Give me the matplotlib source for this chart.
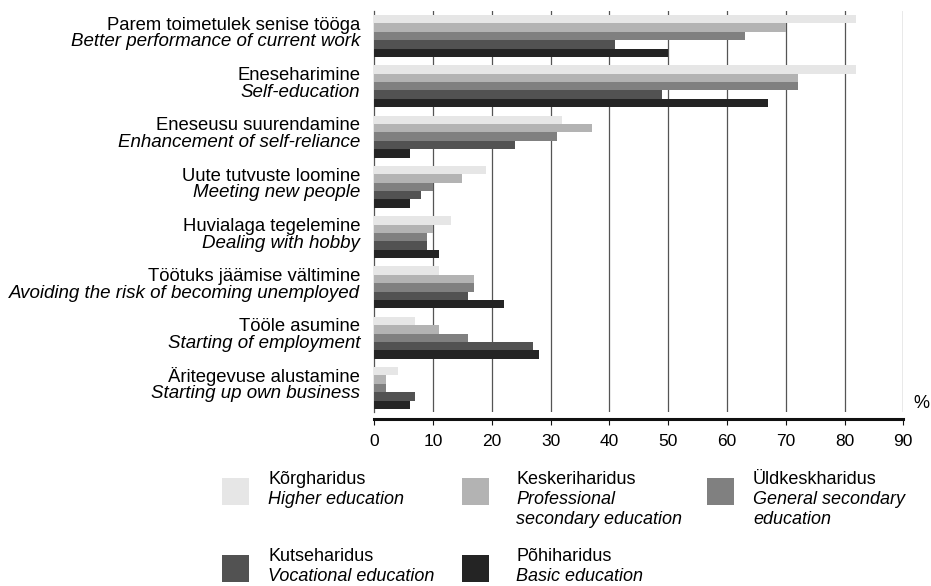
import numpy as np
import matplotlib
matplotlib.use('Agg')
import matplotlib.pyplot as plt
from matplotlib.patches import Rectangle
from matplotlib import transforms

plt.rcParams['font.family'] = ['Liberation Sans', 'DejaVu Sans']

# Categories (Estonian / English)
categories_et = ['Parem toimetulek senise tööga', 'Eneseharimine', 'Eneseusu suurendamine',
                 'Uute tutvuste loomine', 'Huvialaga tegelemine', 'Töötuks jäämise vältimine',
                 'Tööle asumine', 'Äritegevuse alustamine']
categories_en = ['Better performance of current work', 'Self-education',
                 'Enhancement of self-reliance', 'Meeting new people', 'Dealing with hobby',
                 'Avoiding the risk of becoming unemployed', 'Starting of employment',
                 'Starting up own business']

# Education levels
series_et = ['Kõrgharidus', 'Keskeriharidus', 'Üldkeskharidus', 'Kutseharidus', 'Põhiharidus']
series_en = ['Higher education', 'Professional\nsecondary education', 'General secondary\neducation',
             'Vocational education', 'Basic education']
colors = ['#e6e6e6', '#b3b3b3', '#808080', '#525252', '#242424']

# Values, %
higher = [82, 82, 32, 19, 13, 11, 7, 4]
professional = [70, 72, 37, 15, 10, 17, 11, 2]
general = [63, 72, 31, 10, 9, 17, 16, 2]
vocational = [41, 49, 24, 8, 9, 16, 27, 7]
basic = [50, 67, 6, 6, 11, 22, 28, 6]
series = [higher, professional, general, vocational, basic]

xticks = list(range(0, 100, 10))

W, H = 931, 586
fig = plt.figure(figsize=(W / 100, H / 100), dpi=100)
ax = fig.add_axes([374.3 / W, 1 - 411.7 / H, 529 / W, 400.7 / H])

bar_h = 1 / 6
y = np.arange(len(categories_et))
for j, (vals, c) in enumerate(zip(series, colors)):
    ax.barh(y + (j - 2) * bar_h, vals, height=bar_h, color=c, linewidth=0, zorder=3)

ax.set_xlim(0, 90)
ax.set_ylim(7.47, -0.496)

# vertical grid lines
for x in xticks[1:]:
    ax.axvline(x, color='#555555', lw=0.9, zorder=1)

ax.spines['top'].set_visible(False)
ax.spines['right'].set_visible(False)
ax.spines['left'].set_color('#555555')
ax.spines['left'].set_linewidth(0.9)
ax.spines['bottom'].set_position(('outward', 5.3))
ax.spines['bottom'].set_linewidth(2.2)
ax.spines['bottom'].set_color('#111111')

ax.set_yticks([])
ax.set_xticks(xticks)
ax.tick_params(axis='x', direction='out', length=4.3, width=0.8, pad=6.5,
               labelsize=12.5, color='#111111')

# two-line category labels, second line italic
tr_et = transforms.offset_copy(ax.get_yaxis_transform(), fig=fig, x=-14, y=6.3, units='dots')
tr_en = transforms.offset_copy(ax.get_yaxis_transform(), fig=fig, x=-14, y=-10.4, units='dots')
for i in range(len(categories_et)):
    ax.text(0, i, categories_et[i], transform=tr_et, ha='right', va='baseline', fontsize=13.3)
    ax.text(0, i, categories_en[i], transform=tr_en, ha='right', va='baseline', fontsize=13.5,
            style='italic')

fig.text(921 / W, 1 - 403 / H, '%', ha='center', va='center', fontsize=13)

# legend
col_swatch = [222, 462, 707]
col_text = [268, 516, 753]
row_top = [478, 555]
positions = [(0, 0), (1, 0), (2, 0), (0, 1), (1, 1)]
for k, (c, r) in enumerate(positions):
    x0, top = col_swatch[c], row_top[r]
    fig.add_artist(Rectangle((x0 / W, 1 - (top + 27) / H), 27 / W, 27 / H,
                             transform=fig.transFigure, color=colors[k], linewidth=0))
    base = top + 6.3
    fig.text(col_text[c] / W, 1 - base / H, series_et[k], ha='left', va='baseline', fontsize=13)
    for n, line in enumerate(series_en[k].split('\n')):
        fig.text(col_text[c] / W, 1 - (base + 20 * (n + 1)) / H, line, ha='left',
                 va='baseline', fontsize=13, style='italic')

fig.savefig('out.png', dpi=100)
